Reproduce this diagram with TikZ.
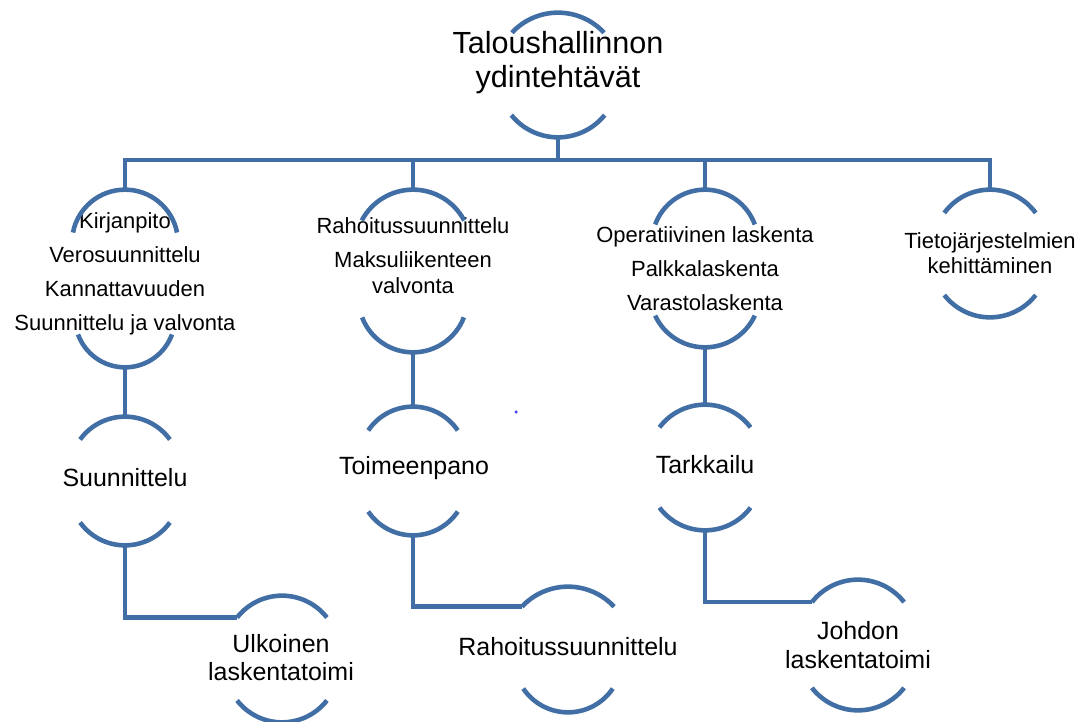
\documentclass[tikz,border=0pt]{standalone}
\usepackage{fontspec}
\setmainfont{Liberation Sans}
\usepackage{tikz}
\usetikzlibrary{calc}
\definecolor{ArcBlue}{RGB}{65,110,165}
\definecolor{DotBlue}{RGB}{70,70,240}
\tikzset{link/.style={draw=ArcBlue, line width=2.6pt}}
\tikzset{frame/.style={inner sep=0pt, minimum width=2cm}}
\tikzset{rootlbl/.style={align=center, inner sep=0pt, font=\fontsize{17.4}{19.8}\selectfont}}
\tikzset{itemlbl/.style={align=center, inner sep=0pt, font=\fontsize{12.5}{19.3}\selectfont}}
\tikzset{wraplbl/.style={align=center, inner sep=0pt, font=\fontsize{12.5}{14.6}\selectfont}}
\tikzset{steplbl/.style={align=center, inner sep=0pt, font=\fontsize{14.2}{16.4}\selectfont}}
% arcs of a frame: node, top angle, bottom angle, top radius, bottom radius
\newcommand{\caps}[5]{\draw[link] (#1.north) arc[start angle=90, delta angle=#2, radius=#4] coordinate (#1-tl)
                                  (#1.north) arc[start angle=90, delta angle=-#2, radius=#4] coordinate (#1-tr)
                                  (#1.south) arc[start angle=270, delta angle=#3, radius=#5]
                                  (#1.south) arc[start angle=270, delta angle=-#3, radius=#5];}

\begin{document}
\begin{tikzpicture}
  \useasboundingbox (0,0) rectangle (21.78,14.42);

  % --- root ---
  \node[frame, minimum height=2.48cm] (root) at (11.16,12.92) {};
  \node[rootlbl] (rootT) at (11.16,13.17) {Taloushallinnon\\ydintehtävät};
  \caps{root}{47}{51}{1.26}{1.2}

  % --- first level ---
  \node[frame, minimum height=3.54cm] (acc) at (2.5,8.85) {};
  \node[itemlbl] (accT) at (2.5,8.95) {Kirjanpito\\Verosuunnittelu\\Kannattavuuden\\Suunnittelu ja valvonta};
  \caps{acc}{79}{70}{1.06}{1.0}

  \node[frame, minimum height=3.24cm] (fin) at (8.26,9.0) {};
  \node[wraplbl] (finT) at (8.26,9.31) {Rahoitussuunnittelu\\[5pt]Maksuliikenteen\\valvonta};
  \caps{fin}{62}{69}{1.16}{1.09}

  \node[frame, minimum height=3.14cm] (ops) at (14.1,9.05) {};
  \node[itemlbl] (opsT) at (14.1,9.04) {Operatiivinen laskenta\\Palkkalaskenta\\Varastolaskenta};
  \caps{ops}{70}{65}{1.06}{1.1}

  \node[frame, minimum height=2.54cm] (sys) at (19.8,9.35) {};
  \node[wraplbl] (sysT) at (19.8,9.36) {Tietojärjestelmien\\kehittäminen};
  \caps{sys}{54}{52}{1.13}{1.16}

  \coordinate (bar) at (0,11.22);
  \draw[link] (root.south) -- (root.south |- bar);
  \draw[link] (acc.north) |- (sys.north |- bar) -- (sys.north);
  \draw[link] (fin.north) -- (fin.north |- bar);
  \draw[link] (ops.north) -- (ops.north |- bar);

  % --- second level ---
  \node[frame, minimum height=2.56cm] (plan) at (2.5,4.8) {};
  \node[steplbl] (planT) at (2.5,4.86) {Suunnittelu};
  \caps{plan}{54}{54}{1.11}{1.11}

  \node[frame, minimum height=2.56cm] (exec) at (8.26,5.0) {};
  \node[steplbl] (execT) at (8.28,5.06) {Toimeenpano};
  \caps{exec}{56}{56}{1.08}{1.08}

  \node[frame, minimum height=2.5cm] (ctrl) at (14.1,5.07) {};
  \node[steplbl] (ctrlT) at (14.1,5.12) {Tarkkailu};
  \caps{ctrl}{53}{53}{1.14}{1.14}

  \draw[link] (acc.south) -- (plan.north);
  \draw[link] (fin.south) -- (exec.north);
  \draw[link] (ops.south) -- (ctrl.north);

  % --- third level ---
  \node[frame, minimum height=2.52cm] (ext) at (5.64,1.24) {};
  \node[steplbl] (extT) at (5.62,1.27) {Ulkoinen\\laskentatoimi};
  \caps{ext}{52}{52}{1.14}{1.14}

  \node[frame, minimum height=2.5cm] (fund) at (11.36,1.43) {};
  \node[steplbl] (fundT) at (11.36,1.48) {Rahoitussuunnittelu};
  \caps{fund}{47}{56}{1.26}{1.08}

  \node[frame, minimum height=2.6cm] (mgmt) at (17.16,1.52) {};
  \node[steplbl] (mgmtT) at (17.16,1.52) {Johdon\\laskentatoimi};
  \caps{mgmt}{52}{52}{1.17}{1.17}

  \draw[link] (plan.south) |- (ext-tl);
  \draw[link] (exec.south) |- (fund-tl);
  \draw[link] (ctrl.south) |- (mgmt-tl);

  \fill[DotBlue] (10.32,6.18) circle (0.035);
\end{tikzpicture}
\end{document}
